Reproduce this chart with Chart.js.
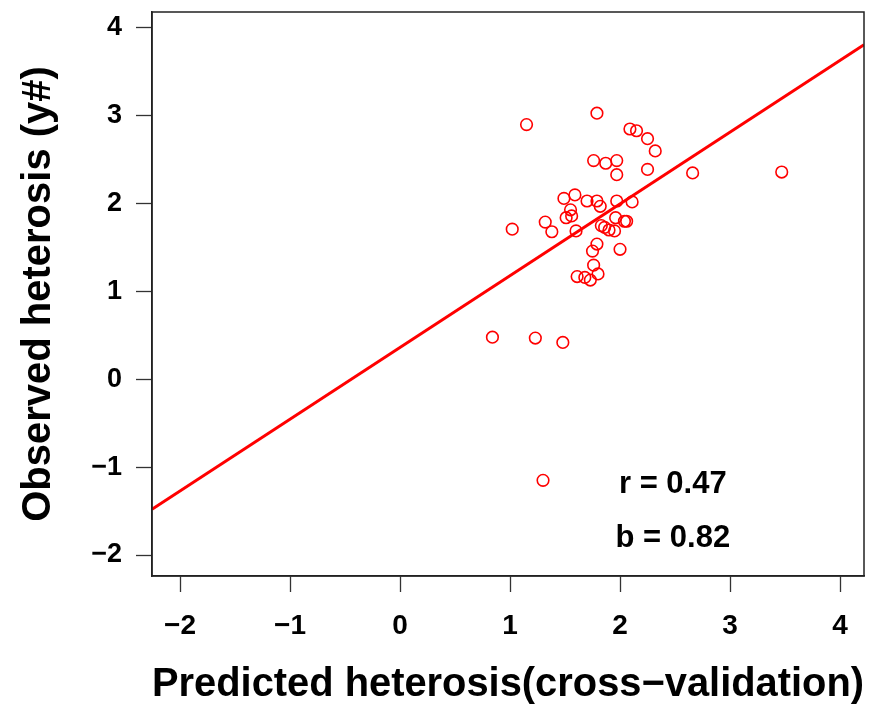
<!DOCTYPE html>
<html>
<head>
<meta charset="utf-8">
<script src="https://cdn.jsdelivr.net/npm/chart.js@4/dist/chart.umd.min.js"></script>
<style>
  html, body { margin: 0; padding: 0; background: #fff; }
  #wrap { width: 880px; height: 706px; }
</style>
</head>
<body>
<div id="wrap"><canvas id="c" width="880" height="706"></canvas></div>
<script>
// Observed points (predicted x, observed y)
const predX = [1.79,1.15,2.09,2.15,2.25,2.32,1.76,1.87,1.97,1.97,2.25,2.66,3.47,1.49,1.59,1.70,1.79,1.82,1.97,2.11,1.55,1.51,1.56,1.32,1.02,1.38,1.60,1.96,2.04,2.06,1.83,1.86,1.90,1.95,1.79,1.75,2.00,1.76,1.61,1.68,1.73,1.80,0.84,1.23,1.48,1.30];
const obsY  = [3.03,2.90,2.85,2.83,2.74,2.60,2.49,2.46,2.49,2.33,2.39,2.35,2.36,2.06,2.10,2.03,2.03,1.97,2.03,2.02,1.93,1.84,1.86,1.79,1.71,1.68,1.69,1.84,1.80,1.80,1.75,1.73,1.70,1.69,1.54,1.46,1.48,1.30,1.17,1.16,1.13,1.20,0.48,0.47,0.42,-1.15];
// Regression line end points
const fitX = [-2.255, 4.218];
const fitY = [-1.48, 3.81];
// Tick labels
const xTicks = [-2,-1,0,1,2,3,4];
const yTicks = [-2,-1,0,1,2,3,4];
// Annotation texts
const statLabels = ["r = 0.47", "b = 0.82"];
const statX = [2.48, 2.48];
const statY = [-1.20, -1.81];

const FONT = "'Liberation Sans', Arial, Helvetica, sans-serif";
const fmt = v => v < 0 ? '\u2212' + Math.abs(v) : String(v);

const framePlugin = {
  id: 'frame',
  afterDraw(chart) {
    const {ctx, chartArea: a, scales} = chart;
    ctx.save();
    ctx.strokeStyle = '#222';
    ctx.lineWidth = 1.5;
    ctx.strokeRect(a.left, a.top, a.right - a.left, a.bottom - a.top);
    ctx.fillStyle = '#000';
    ctx.font = 'bold 31px ' + FONT;
    ctx.textAlign = 'center';
    ctx.textBaseline = 'middle';
    statLabels.forEach((t, i) => {
      ctx.fillText(t, scales.x.getPixelForValue(statX[i]), scales.y.getPixelForValue(statY[i]));
    });
    ctx.restore();
  }
};

new Chart(document.getElementById('c'), {
  type: 'scatter',
  data: {
    datasets: [
      {
        type: 'line',
        data: fitX.map((x, i) => ({x, y: fitY[i]})),
        borderColor: '#ff0000',
        borderWidth: 3,
        pointRadius: 0,
        fill: false,
        order: 2
      },
      {
        data: predX.map((x, i) => ({x, y: obsY[i]})),
        borderColor: '#ff0000',
        backgroundColor: 'rgba(0,0,0,0)',
        borderWidth: 1.6,
        pointRadius: 5.8,
        order: 1
      }
    ]
  },
  options: {
    responsive: false,
    animation: false,
    events: [],
    layout: { padding: { left: 0, top: 12, right: 16, bottom: 0 } },
    plugins: { legend: { display: false }, tooltip: { enabled: false } },
    scales: {
      x: {
        type: 'linear',
        min: -2.255, max: 4.218,
        afterBuildTicks: s => { s.ticks = xTicks.map(v => ({value: v})); },
        afterFit: s => { s.height = 130; s.paddingLeft = 0; s.paddingRight = 0; },
        grid: { drawOnChartArea: false, drawTicks: true, tickLength: 16, tickColor: '#333', tickWidth: 1.3 },
        border: { display: true, color: '#222', width: 1.5 },
        ticks: { color: '#000', font: { family: FONT, size: 28, weight: 'bold' }, padding: 17, maxRotation: 0, autoSkip: false, callback: v => fmt(v) },
        title: { display: true, text: 'Predicted heterosis(cross\u2212validation)', color: '#000', font: { family: FONT, size: 40, weight: 'bold', lineHeight: 1 }, padding: { top: 0, bottom: 1 } }
      },
      y: {
        type: 'linear',
        min: -2.239, max: 4.182,
        afterBuildTicks: s => { s.ticks = yTicks.map(v => ({value: v})); },
        afterFit: s => { s.width = 152; s.paddingTop = 0; s.paddingBottom = 0; },
        grid: { drawOnChartArea: false, drawTicks: true, tickLength: 16, tickColor: '#333', tickWidth: 1.3 },
        border: { display: true, color: '#222', width: 1.5 },
        ticks: { color: '#000', font: { family: FONT, size: 27, weight: 'bold' }, padding: 14, autoSkip: false, callback: v => fmt(v) },
        title: { display: true, text: 'Observed heterosis (y#)', color: '#000', font: { family: FONT, size: 40, weight: 'bold', lineHeight: 1 }, padding: { top: 19, bottom: 0 } }
      }
    }
  },
  plugins: [framePlugin]
});
</script>
</body>
</html>
